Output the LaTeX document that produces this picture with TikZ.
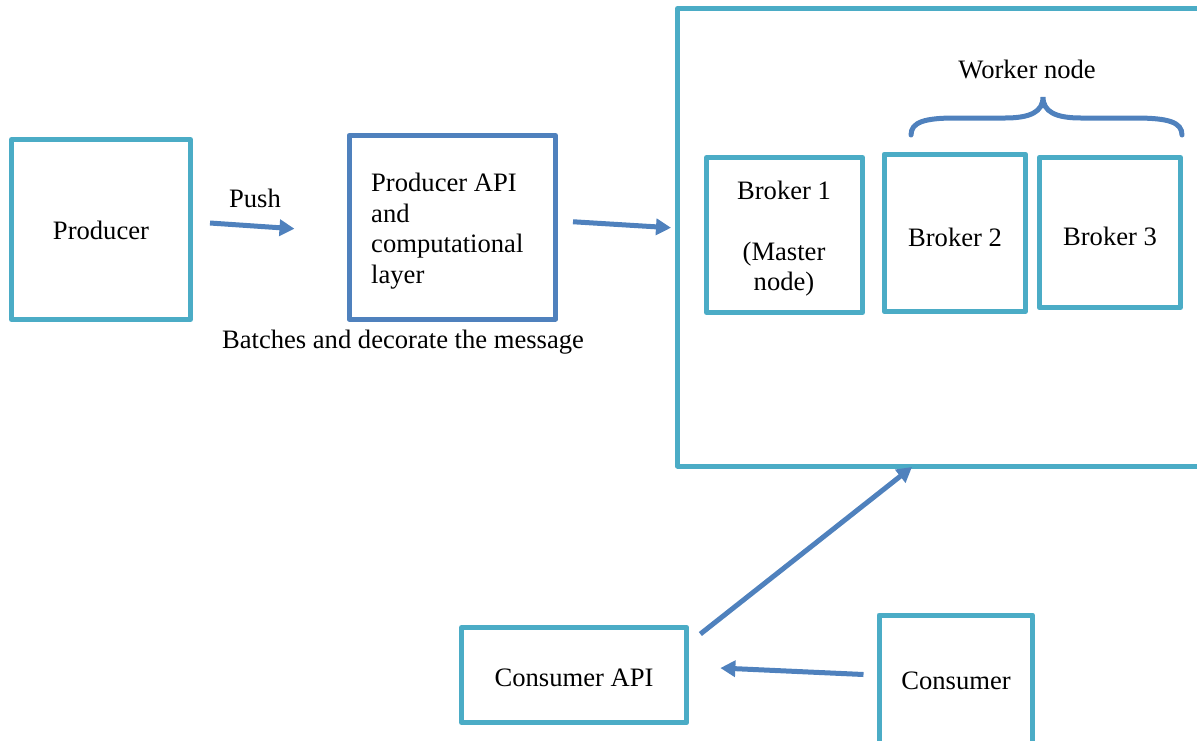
\documentclass[tikz,border=0pt]{standalone}
\usepackage{fontspec}
\newfontfamily\tnr{Liberation Serif}
\usetikzlibrary{arrows.meta,calc}
\definecolor{boxblue}{HTML}{4BACC6}
\definecolor{darkblue}{HTML}{4F81BD}
\tikzset{
  box/.style={draw=boxblue, line width=5pt, line join=round, rectangle, inner sep=0pt, fill=none},
  darkbox/.style={box, draw=darkblue},
  arr/.style={draw=darkblue, line width=5pt, -{Triangle[length=15pt,width=16pt]}},
  brace/.style={draw=darkblue, line width=5pt, line cap=round},
  lbl/.style={inner sep=0pt, font=\tnr\fontsize{26.6}{30.5}\selectfont}
}
\begin{document}
\begin{tikzpicture}[x=1pt,y=-1pt]
\useasboundingbox (0,0) rectangle (1197,740);
% boxes
\node[box, minimum width=179pt, minimum height=180pt] (prod) at (101,229.5) {};
\node[darkbox, minimum width=206.5pt, minimum height=183.5pt] (papi) at (452.25,227.25) {};
\node[box, minimum width=540pt, minimum height=457.5pt] (cluster) at (947.5,237.25) {};
\node[box, minimum width=156pt, minimum height=155pt] (b1) at (784.5,235) {};
\node[box, minimum width=141.3pt, minimum height=157.3pt] (b2) at (954.8,232.8) {};
\node[box, minimum width=141.3pt, minimum height=150pt] (b3) at (1109.8,232.5) {};
\node[box, minimum width=225.3pt, minimum height=95pt] (capi) at (574.2,675) {};
\node[box, minimum width=153.5pt, minimum height=150pt] (cons) at (955.75,690) {};
% texts
\node[lbl] (tprod) at (101,230) {Producer};
\node[lbl, anchor=west, align=left] (tpapi) at (371,231) {Producer API\\and\\computational\\layer};
\node[lbl, align=center] (tb1) at (784,238.5) {Broker 1\\[30.5pt](Master\\node)};
\node[lbl] (tb2) at (955,237) {Broker 2};
\node[lbl] (tb3) at (1110,236) {Broker 3};
\node[lbl] (tcapi) at (574,678) {Consumer API};
\node[lbl] (tcons) at (956,681) {Consumer};
\node[lbl] (push) at (255,198) {Push};
\node[lbl] (batch) at (403,342) {Batches and decorate the message};
\node[lbl] (worker) at (1027,69) {Worker node};
% brace
\draw[brace] (911,135) .. controls (911,122) and (925,118) .. (955,118)
  -- (1005,118) .. controls (1030,118) and (1043,112) .. (1043,97)
  .. controls (1043,112) and (1056,118) .. (1081,118)
  -- (1135,118) .. controls (1168,118) and (1182,122) .. (1182,135);
% arrows
\coordinate (a1s) at ($(prod.east)+(17,-6.5)$);
\coordinate (a1e) at ($(papi.west)+(-52,1.5)$);
\draw[arr] (a1s) -- (a1e);
\coordinate (a2s) at ($(papi.east)+(15,-5.5)$);
\coordinate (a2e) at ($(cluster.west)+(-4,-9.5)$);
\draw[arr] (a2s) -- (a2e);
\coordinate (a3s) at ($(capi.north east)+(11,9)$);
\coordinate (a3e) at (912,467);
\draw[arr] (a3s) -- (a3e);
\coordinate (a4s) at ($(cons.west)+(-13,-15.5)$);
\coordinate (a4e) at ($(capi.east)+(31,-7)$);
\draw[arr] (a4s) -- (a4e);
\end{tikzpicture}
\end{document}
